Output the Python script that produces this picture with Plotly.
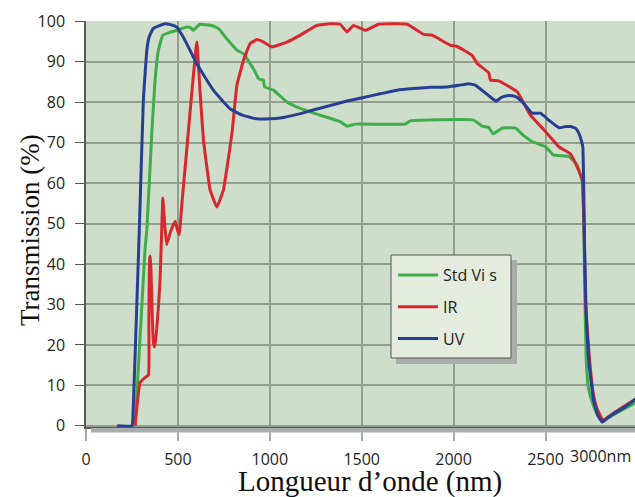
import plotly.graph_objects as go

# ---------------- data ----------------
uv_wl = [170, 250, 256, 290, 312, 331, 343, 365, 403, 430, 460, 494, 520, 548, 575, 603, 650, 693,
         740, 784, 850, 930, 1000, 1057, 1150, 1236, 1329, 1420, 1510, 1600, 1692, 1780, 1874, 1964,
         2030, 2082, 2120, 2164, 2200, 2231, 2260, 2291, 2320, 2346, 2382, 2427, 2473, 2520, 2573,
         2610, 2636, 2665, 2682, 2694, 2703, 2713, 2720, 2736, 2763, 2785, 2809, 2840, 2872, 2930, 2990]
uv_t = [0, 0, 3, 48.5, 80.5, 92.9, 96.1, 98.2, 99, 99.4, 99.2, 98.6, 96.8, 94.5, 92, 89.5, 86, 83,
        80.5, 78.4, 76.8, 75.9, 75.9, 76.1, 77, 78.1, 79.2, 80.3, 81.2, 82.1, 83, 83.4, 83.7, 83.8,
        84.2, 84.6, 84.2, 82.6, 81.3, 80.3, 81.2, 81.6, 81.6, 81.2, 79.7, 77.3, 77.3, 75.5, 73.7,
        74, 74, 73.5, 72.3, 70.7, 69, 43.6, 30, 15.7, 5.9, 2.5, 0.9, 2, 3, 4.6, 6.6]

vis_wl = [267, 321, 331, 358, 375, 394, 418, 450, 494, 548, 570, 584, 600, 621, 684, 721, 766, 821,
          857, 911, 940, 965, 972, 1020, 1093, 1166, 1275, 1383, 1420, 1465, 1737, 1765, 2110, 2155,
          2191, 2215, 2264, 2337, 2380, 2427, 2500, 2542, 2627, 2672, 2700, 2709, 2715, 2722, 2735,
          2754, 2780, 2809, 2850, 2900, 2990]
vis_t = [0, 43.6, 48.5, 72.4, 85, 92.9, 96.6, 97.2, 97.8, 98.6, 98.4, 97.8, 98.5, 99.3, 99, 98.2, 95.7,
         92.9, 92, 88.3, 85.8, 85.5, 83.8, 83, 80.1, 78.5, 76.8, 75.2, 74.1, 74.6, 74.6, 75.4, 75.6,
         74.1, 73.8, 72.2, 73.6, 73.6, 71.8, 70.3, 69, 67, 66.6, 64.5, 60.4, 48.5, 30, 15.7, 9,
         5.9, 3, 1.3, 2.2, 3.5, 5.7]

ir_wl = [267, 294, 318, 340, 342, 344, 347, 350, 354, 360, 366, 372, 378, 385, 395, 403, 412, 418,
         428, 439, 460, 485, 497, 508, 520, 548, 575, 603, 620, 639, 675, 712, 748, 794, 821, 857,
         893, 930, 966, 1011, 1093, 1166, 1256, 1329, 1383, 1420, 1456, 1520, 1592, 1747, 1837,
         1883, 1983, 2019, 2101, 2128, 2191, 2200, 2246, 2346, 2373, 2418, 2491, 2573, 2636, 2663,
         2700, 2712, 2718, 2741, 2760, 2781, 2814, 2850, 2900, 2990]
ir_t = [0, 10.7, 11.8, 12.6, 25, 37, 41.5, 42, 38, 28, 21, 19.5, 21, 24, 30, 36.2, 48.5, 56.3,
        50, 44.8, 48, 50.6, 48.5, 47.3, 54, 68.2, 82, 94.9, 83, 70.7, 58.4, 54.1, 58.4, 72.3, 84.2,
        90.4, 94.5, 95.5, 94.9, 93.7, 94.9, 96.6, 99, 99.4, 99.3, 97.4, 99, 97.8, 99.3, 99.3, 96.8,
        96.6, 94.1, 93.8, 91.6, 89.6, 87.3, 85.5, 85.3, 82.6, 80.5, 76.8, 73.2, 69, 67.2, 64.9,
        60.8, 43.6, 30, 15.7, 8, 4.2, 1.3, 2.5, 4, 6.6]

series_names = ["Std Vi s", "IR", "UV"]
series_colors = ["#3fad49", "#d7282f", "#263f93"]

x_tickvals = [0, 500, 1000, 1500, 2000, 2500]
x_ticktext = ["0", "500", "1000", "1500", "2000", "2500"]
y_tickvals = list(range(0, 101, 10))

x_title = "Longueur d\u2019onde (nm)"
y_title = "Transmission (%)"
last_x_label = "3000nm"

# ---------------- figure ----------------
W, H = 635, 497
ML, MR, MT, MB = 86, 0, 21, 70
PW, PH = W - ML - MR, H - MT - MB


def px_x(p):  # pixel column -> paper x
    return (p - ML) / PW


def px_y(p):  # pixel row -> paper y
    return (MT + PH - p) / PH


fig = go.Figure()
for name, xs, ys, col in zip(series_names, [vis_wl, ir_wl, uv_wl], [vis_t, ir_t, uv_t], series_colors):
    fig.add_trace(go.Scatter(x=xs, y=ys, mode="lines", name=name, legendgroup=name,
                             line=dict(color=col, width=3, shape="spline", smoothing=0.3)))

tick_font = dict(family="Open Sans, sans-serif", size=16, color="#231f20")
serif_col = "#111111"
grid_col = "#939d90"

fig.update_layout(
    width=W, height=H,
    margin=dict(l=ML, r=MR, t=MT, b=MB, pad=0, autoexpand=False),
    paper_bgcolor="white",
    plot_bgcolor="#cfdeca",
    showlegend=True,
    legend=dict(
        x=px_x(393), y=px_y(258), xanchor="left", yanchor="top",
        bgcolor="rgba(0,0,0,0)", borderwidth=0,
        font=dict(family="Open Sans, sans-serif", size=16, color="#231f20"),
        tracegroupgap=8, itemwidth=40,
    ),
    xaxis=dict(
        range=[0, (W - ML) / 0.1838], tickvals=x_tickvals, ticktext=x_ticktext,
        showgrid=True, gridcolor=grid_col, gridwidth=1.5,
        ticks="outside", ticklen=12, tickcolor="#a3aca1", tickwidth=1.5, ticklabelstandoff=5,
        showline=True, linecolor="#5a5a5a", linewidth=1.5,
        zeroline=False, tickfont=tick_font, automargin=False,
    ),
    yaxis=dict(
        range=[-0.3, 100.1], tickvals=y_tickvals,
        showgrid=True, gridcolor=grid_col, gridwidth=1.5,
        ticks="outside", ticklen=9, tickcolor="#555555", tickwidth=1.2, ticklabelstandoff=7,
        showline=True, linecolor="#5a5a5a", linewidth=1.5,
        zeroline=False, tickfont=tick_font, automargin=False,
    ),
)

# axis titles
fig.add_annotation(text=y_title, xref="paper", yref="paper", x=px_x(30), y=px_y(230),
                   xanchor="center", yanchor="middle", textangle=-90, showarrow=False,
                   font=dict(family="Liberation Serif, serif", size=27, color=serif_col))
fig.add_annotation(text=x_title, xref="paper", yref="paper", x=px_x(370), y=px_y(481),
                   xanchor="center", yanchor="middle", showarrow=False,
                   font=dict(family="Liberation Serif, serif", size=29, color=serif_col))

# shadow under the x axis
fig.add_shape(type="rect", xref="paper", yref="paper",
              x0=px_x(91), x1=1, y0=px_y(432.5), y1=px_y(428),
              fillcolor="#a7adac", line=dict(width=0), layer="above")
# legend drop shadow and frame
fig.add_shape(type="rect", xref="paper", yref="paper",
              x0=px_x(396), x1=px_x(517), y0=px_y(364), y1=px_y(260),
              fillcolor="#a9aeac", line=dict(width=0), layer="above")
fig.add_shape(type="rect", xref="paper", yref="paper",
              x0=px_x(391), x1=px_x(511), y0=px_y(358), y1=px_y(255),
              fillcolor="#e4ebdf", line=dict(width=1, color="#555555"), layer="above")

# final x label (tick at 3000 lies just outside the plotted range)
fig.add_annotation(text=last_x_label, xref="paper", yref="paper", x=1, y=0,
                   xanchor="right", yanchor="top", yshift=-16, xshift=-2, showarrow=False,
                   font=tick_font)

fig.write_html("out.html", config={"displayModeBar": False},
               post_script="document.body.style.margin='0px';")
